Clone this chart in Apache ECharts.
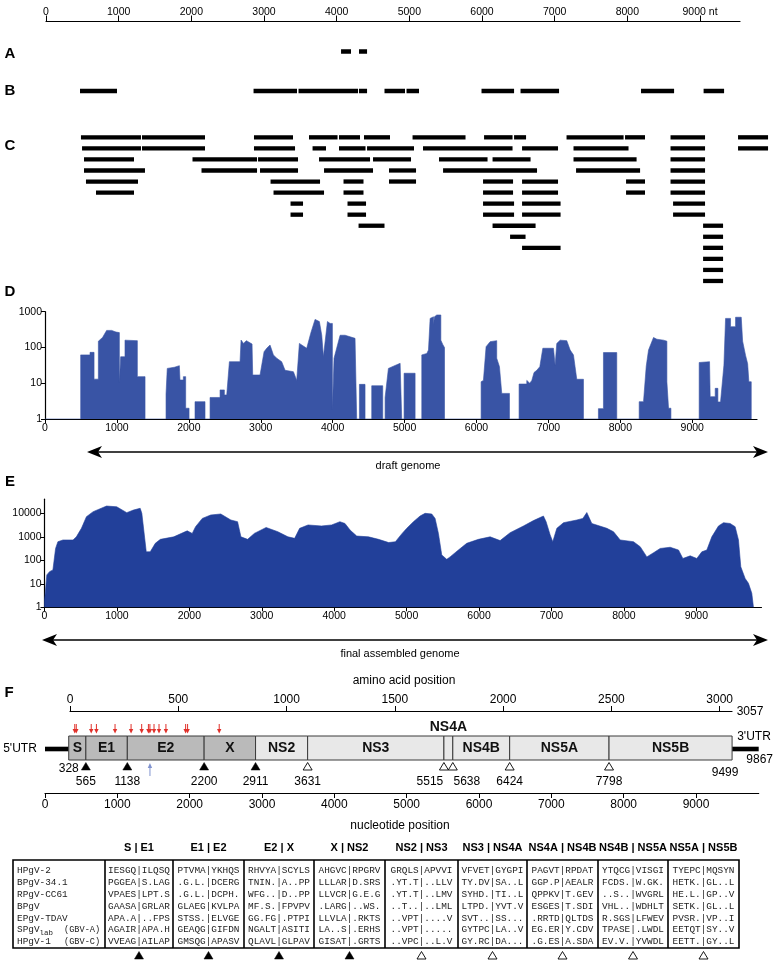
<!DOCTYPE html>
<html><head><meta charset="utf-8">
<script src="https://cdn.jsdelivr.net/npm/echarts@6/dist/echarts.min.js"></script>
<style>html,body{margin:0;padding:0;background:#fff}#c{width:774px;height:960px}</style>
</head><body><div id="c"></div>
<script>
// ---------------- DATA ----------------
const ntTicks = [0,1000,2000,3000,4000,5000,6000,7000,8000,9000];
const aaTicks = [0,500,1000,1500,2000,2500,3000];
const aaLength = 3057;
const genomeLength = 9867;

// Panel A / B / C : contig spans [start nt, end nt] (C has row index)
const contigsA = [[4060,4197],[4307,4418]];
const contigsB = [[468,977],[2856,3454],[3475,4294],[4307,4418],[4658,4940],[4961,5133],[5993,6441],[6530,7060],[8188,8643],[9049,9331]];
const contigsC = [
  [[481,1307],[1321,2188],[2862,3399],[3619,4012],[4032,4321],[4376,4734],[5044,5773],[6028,6420],[6441,6606],[7163,7948],[7968,8243],[8594,9069],[9523,9936]],
  [[496,1307],[1321,2188],[2862,3427],[3668,3853],[4032,4397],[4418,5064],[5188,6420],[6551,7046],[7259,8016],[8594,9069],[9523,9936]],
  [[523,1211],[2016,2904],[2918,3468],[3757,4459],[4500,5023],[5408,6076],[6145,6668],[7259,8127],[8594,9069]],
  [[523,1362],[2140,2904],[2945,3468],[3826,4500],[4720,5092],[5464,6757],[7294,8175],[8594,9069]],
  [[550,1266],[3090,3771],[4094,4369],[4720,5092],[6014,6427],[6551,7046],[7982,8243],[8594,9069]],
  [[688,1211],[3131,3826],[4094,4369],[6014,6427],[6551,7046],[7982,8243],[8594,9069]],
  [[3365,3537],[4149,4404],[6014,6441],[6551,7081],[8629,9069]],
  [[3365,3537],[4149,4404],[6014,6441],[6551,7081],[8629,9069]],
  [[4301,4658],[6145,6737],[9042,9317]],
  [[6386,6599],[9042,9317]],
  [[6551,7081],[9042,9317]],
  [[9042,9317]],
  [[9042,9317]],
  [[9042,9317]]
];

// Panel D : draft genome coverage [nt, depth]
const draftCoverage = [
 [0,1],[496,1],[496,62],[626,62],[626,73],[682,73],[682,13],[742,13],[742,150],[800,190],[857,300],[927,300],[987,270],[1034,260],[1034,10.4],[1052,10.4],[1052,55],[1112,55],[1112,160],[1284,155],[1284,15.3],[1391,15.3],[1391,1],
 [1683,1],[1683,5],[1700,26],[1800,28],[1868,31],[1877,12.3],[1924,12.3],[1924,15.3],[1956,15.3],[1956,2],[2003,2],[2003,1],
 [2086,1],[2086,3.05],[2225,3.05],[2225,1],
 [2295,1],[2295,4],[2434,4],[2434,6.5],[2494,6.5],[2494,4.7],[2527,4.7],[2564,40],[2712,40],[2726,161],[2760,130],[2800,155],[2879,125],[2888,17],[2990,17],[3046,76],[3083,95],[3129,117],[3176,62],[3222,50],[3291,40],[3338,23],[3454,21],[3500,12],[3537,130],[3639,95],[3695,250],[3755,610],[3815,530],[3848,220],[3871,55],[3927,530],[3964,470],[3996,470],[3996,1.8],[4019,1.8],[4019,50],[4103,220],[4172,220],[4311,180],[4334,180],[4334,1],
 [4372,1],[4372,9.3],[4450,9.3],[4450,1],
 [4543,1],[4543,8.5],[4696,8.5],[4696,1],
 [4729,1],[4729,4],[4775,26],[4845,30],[4938,36],[4960,36],[4960,1],
 [4993,1],[4993,19],[5146,19],[5146,1],
 [5239,1],[5239,62],[5309,68],[5332,85],[5355,650],[5402,720],[5402,425],[5415,425],[5415,720],[5448,810],[5504,810],[5504,160],[5532,120],[5555,100],[5555,1],
 [6064,1],[6064,11],[6096,12],[6133,105],[6189,145],[6281,155],[6281,50],[6319,29],[6351,5.2],[6458,5.2],[6458,1],
 [6592,1],[6592,9.5],[6699,9.5],[6699,12],[6740,10],[6769,12],[6800,20],[6838,23],[6880,29],[6922,95],[7070,95],[7093,32],[7116,130],[7163,160],[7255,155],[7302,85],[7348,62],[7394,12.9],[7487,12.9],[7487,1],
 [7695,1],[7695,1.95],[7765,1.95],[7765,72],[7950,72],[7950,1],
 [8262,1],[8262,3.05],[8322,3.05],[8360,30],[8392,85],[8461,190],[8508,170],[8601,160],[8647,150],[8647,11],[8670,2],[8703,2],[8703,1],
 [9096,1],[9096,38],[9240,40],[9249,4.2],[9319,4.2],[9319,7.2],[9356,7.2],[9356,3],[9393,3],[9440,32],[9463,650],[9532,650],[9532,380],[9602,380],[9602,700],[9681,700],[9700,150],[9741,60],[9770,35],[9787,11],[9820,11],[9820,1]
];

// Panel E : final assembled genome coverage [nt, depth]
const finalCoverage = [
 [0,1],[0,2],[14,5.5],[32,24],[70,33],[116,39],[153,320],[185,620],[255,735],[394,735],[440,1000],[510,2300],[579,7200],[672,11800],[857,20500],[997,19000],[1136,10700],[1228,13800],[1321,16400],[1344,10000],[1405,230],[1460,230],[1530,530],[1600,780],[1785,1000],[1970,1800],[2040,1400],[2086,2700],[2179,6100],[2295,8500],[2434,9400],[2573,5200],[2666,4400],[2712,1000],[2805,780],[2897,1400],[3060,2500],[3222,1650],[3361,1000],[3454,860],[3523,2300],[3639,3200],[3825,2900],[3964,3200],[4079,4400],[4149,3700],[4219,1950],[4311,1080],[4474,1000],[4613,780],[4752,570],[4845,620],[4938,1400],[5002,2300],[5094,4400],[5186,7700],[5255,10000],[5347,9400],[5393,6100],[5439,1400],[5485,170],[5554,110],[5600,140],[5715,275],[5830,530],[5991,780],[6153,1000],[6291,690],[6429,1500],[6613,2900],[6751,4900],[6889,7700],[6926,4400],[6982,1200],[7018,620],[7074,2300],[7166,4000],[7350,5200],[7433,6100],[7488,10800],[7557,3700],[7765,2300],[7857,1650],[7949,735],[8133,620],[8225,380],[8317,140],[8409,210],[8501,320],[8639,360],[8754,275],[8814,120],[8915,155],[9007,120],[9076,230],[9145,275],[9214,1000],[9306,2900],[9375,4000],[9467,3700],[9536,2700],[9582,735],[9614,53],[9674,17],[9720,10.5],[9766,4],[9789,1]
];

// Panel F : genome organisation
const geneNames  = ['S','E1','E2','X','NS2','NS3','NS4A','NS4B','NS5A','NS5B'];
const geneStarts = [328,565,1138,2200,2911,3631,5515,5638,6424,7798];
const geneEnds   = [565,1138,2200,2911,3631,5515,5638,6424,7798,9499];
const geneStructural = [1,1,1,1,0,0,0,0,0,0];
const cleavageSites = [565,1138,2200,2911,3631,5515,5638,6424,7798];
const cleavageSignalase = [1,1,1,1,0,0,0,0,0];
const utrSpans = [[0,328],[9499,9867]];
const glycoSitesAA = [22,29,98,122,208,282,331,362,369,388,411,443,534,543,689];
const blueSiteNt = [1451];

// Table of cleavage junctions
const junctionHeaders = ['S | E1','E1 | E2','E2 | X','X | NS2','NS2 | NS3','NS3 | NS4A','NS4A | NS4B','NS4B | NS5A','NS5A | NS5B'];
const virusNames = ['HPgV-2','BPgV-34.1','RPgV-CC61','BPgV','EPgV-TDAV','SPgV|lab|(GBV-A)','HPgV-1||(GBV-C)'];
const junctionSeqs = [
 ['IESGQ|ILQSQ','PTVMA|YKHQS','RHVYA|SCYLS','AHGVC|RPGRV','GRQLS|APVVI','VFVET|GYGPI','PAGVT|RPDAT','YTQCG|VISGI','TYEPC|MQSYN'],
 ['PGGEA|S.LAG','.G.L.|DCERG','TNIN.|A..PP','LLLAR|D.SRS','.YT.T|..LLV','TY.DV|SA..L','GGP.P|AEALR','FCDS.|W.GK.','HETK.|GL..L'],
 ['VPAES|LPT.S','.G.L.|DCPH.','WFG..|D..PP','LLVCR|G.E.G','.YT.T|..LMV','SYHD.|TI..L','QPPKV|T.GEV','..S..|WVGRL','HE.L.|GP..V'],
 ['GAASA|GRLAR','GLAEG|KVLPA','MF.S.|FPVPV','.LARG|..WS.','..T..|..LML','LTPD.|YVT.V','ESGES|T.SDI','VHL..|WDHLT','SETK.|GL..L'],
 ['APA.A|..FPS','STSS.|ELVGE','GG.FG|.PTPI','LLVLA|.RKTS','..VPT|....V','SVT..|SS...','.RRTD|QLTDS','R.SGS|LFWEV','PVSR.|VP..I'],
 ['AGAIR|APA.H','GEAQG|GIFDN','NGALT|ASITI','LA..S|.ERHS','..VPT|.....','GYTPC|LA..V','EG.ER|Y.CDV','TPASE|.LWDL','EETQT|SY..V'],
 ['VVEAG|AILAP','GMSQG|APASV','QLAVL|GLPAV','GISAT|.GRTS','..VPC|..L.V','GY.RC|DA...','.G.ES|A.SDA','EV.V.|YVWDL','EETT.|GY..L']
];

// ---------------- STYLE ----------------
const SANS = "'Liberation Sans',Arial,sans-serif";
const MONO = "'Liberation Mono','Courier New',monospace";
const colD = '#3954a5', colE = '#22409a';
const fmt = v => String(v);

function hiddenY(idx, min, max, inv){ return {type:'value', gridIndex:idx, min:min, max:max, inverse:!!inv, show:false}; }
function segRender(h){
  return function(params, api){
    const s = api.coord([api.value(0), api.value(2)]);
    const e = api.coord([api.value(1), api.value(2)]);
    return {type:'rect', shape:{x:s[0], y:s[1]-h/2, width:e[0]-s[0], height:h}, style:{fill:'#000'}};
  };
}
const cData = [];
contigsC.forEach((row,r)=>row.forEach(s=>cData.push([s[0],s[1],r])));

function dblArrow(x1,x2,y){
  return [
    {type:'line', shape:{x1:x1+8, y1:y, x2:x2-8, y2:y}, style:{stroke:'#000', lineWidth:1.6}},
    {type:'polygon', shape:{points:[[x1,y],[x1+15,y-6],[x1+11,y],[x1+15,y+6]]}, style:{fill:'#000'}},
    {type:'polygon', shape:{points:[[x2,y],[x2-15,y-6],[x2-11,y],[x2-15,y+6]]}, style:{fill:'#000'}}
  ];
}
function label(t,x,y,opt){
  return {type:'text', style:Object.assign({text:t, x:x, y:y, align:'center', verticalAlign:'middle', font:'12px '+SANS, fill:'#000'}, opt||{})};
}

// table graphics
const colBounds = [13,105,173,244,314,385,458,527,598,668,739];
const tableTop = 860, tableBottom = 948, rowY0 = 870.5, rowStep = 11.9;
const tableG = [];
tableG.push({type:'rect', shape:{x:colBounds[0], y:tableTop, width:colBounds[10]-colBounds[0], height:tableBottom-tableTop}, style:{fill:'none', stroke:'#000', lineWidth:1.6}});
for (let i=1;i<10;i++) tableG.push({type:'line', shape:{x1:colBounds[i], y1:tableTop, x2:colBounds[i], y2:tableBottom}, style:{stroke:'#000', lineWidth:1.6}});
junctionHeaders.forEach((h,j)=>{
  const cx=(colBounds[j+1]+colBounds[j+2])/2;
  tableG.push(label(h, cx, 848, {font:'bold 11px '+SANS}));
  const ty=955.5, filled=cleavageSignalase[j];
  tableG.push({type:'polygon', shape:{points:[[cx-4.5,ty+3.5],[cx+4.5,ty+3.5],[cx,ty-4]]}, style:{fill: filled?'#000':'#fff', stroke:'#000', lineWidth: filled?0.5:0.9}});
});
virusNames.forEach((n,i)=>{
  const y=rowY0+i*rowStep;
  const parts=n.split('|');
  tableG.push({type:'text', style:{text:parts[0], x:17, y:y, align:'left', verticalAlign:'middle', font:'9.4px '+MONO, fill:'#222'}});
  if (parts.length>1){
    const w0 = parts[0].length*5.64;
    if (parts[1]) tableG.push({type:'text', style:{text:parts[1], x:17+w0, y:y+3, align:'left', verticalAlign:'middle', font:'7.5px '+MONO, fill:'#222'}});
    tableG.push({type:'text', style:{text:parts[2], x:64, y:y, align:'left', verticalAlign:'middle', font:'8.6px '+MONO, fill:'#222'}});
  }
  junctionSeqs[i].forEach((s,j)=>{
    const cx=(colBounds[j+1]+colBounds[j+2])/2;
    tableG.push({type:'text', style:{text:s, x:cx, y:y, align:'center', verticalAlign:'middle', font:'9.4px '+MONO, fill:'#222'}});
  });
});

const graphics = [].concat(
  [
    label('A',10,54,{font:'bold 15px '+SANS}),
    label('B',10,91,{font:'bold 15px '+SANS}),
    label('C',10,146,{font:'bold 15px '+SANS}),
    label('D',10,292,{font:'bold 15px '+SANS}),
    label('E',10,482,{font:'bold 15px '+SANS}),
    label('F',9,693,{font:'bold 15px '+SANS}),
    label('draft genome',408,466,{font:'11px '+SANS}),
    label('final assembled genome',400,654,{font:'11px '+SANS}),
    label('amino acid position',404,681,{font:'12px '+SANS}),
    label('nucleotide position',400,826,{font:'12px '+SANS}),
    label("5'UTR",20,749,{font:'12px '+SANS}),
    label("3'UTR",754,737,{font:'12px '+SANS}),
    label('3057',750,712,{font:'12px '+SANS})
  ],
  dblArrow(87,768,452),
  dblArrow(42,768,640),
  tableG
);

// ---------------- OPTION ----------------
const axisLine = {show:true, onZero:false, lineStyle:{color:'#000', width:1.2}};
const tick = (len, vals) => ({show:true, length:len, lineStyle:{color:'#000'}, customValues:vals});
const lab = (vals, size, margin, extra) => Object.assign({customValues:vals, color:'#000', fontSize:size, fontFamily:SANS, margin:margin, formatter:fmt}, extra||{});
const option = {
  animation:false,
  backgroundColor:'#fff',
  grid:[
    {left:46, right:34, top:21.5, height:60},      // 0 top axis + A
    {left:46, right:34, top:85.5, height:11},      // 1 B
    {left:46, right:34, top:131.8, height:154.7},  // 2 C
    {left:45, right:17, top:311.7, height:107.3},  // 3 D
    {left:44.5, right:12.5, top:499.2, height:108.1}, // 4 E
    {left:70, right:42, top:711, height:60},       // 5 aa axis
    {left:45, right:15.3, top:700, height:93}      // 6 nt axis
  ],
  xAxis:[
    {type:'value', gridIndex:0, position:'top', min:0, max:9550, axisLine:axisLine, axisTick:tick(6, ntTicks),
      axisLabel:lab(ntTicks, 10.5, 4, {formatter:v=> v===9000 ? '9000 nt' : String(v)}), splitLine:{show:false}},
    {type:'value', gridIndex:1, min:0, max:9550, show:false},
    {type:'value', gridIndex:2, min:0, max:9550, show:false},
    {type:'value', gridIndex:3, min:0, max:9900, axisLine:axisLine, axisTick:tick(4, ntTicks),
      axisLabel:lab(ntTicks, 10.5, 4), splitLine:{show:false}},
    {type:'value', gridIndex:4, min:0, max:9900, axisLine:axisLine, axisTick:tick(4, ntTicks),
      axisLabel:lab(ntTicks, 10.5, 3), splitLine:{show:false}},
    {type:'value', gridIndex:5, position:'top', min:0, max:aaLength, axisLine:axisLine, axisTick:tick(5, aaTicks),
      axisLabel:lab(aaTicks, 12, 5), splitLine:{show:false}},
    {type:'value', gridIndex:6, position:'bottom', min:0, max:genomeLength, axisLine:axisLine, axisTick:tick(5, ntTicks),
      axisLabel:lab(ntTicks, 12, 6), splitLine:{show:false}}
  ],
  yAxis:[
    hiddenY(0,-1,1), hiddenY(1,-1,1), hiddenY(2,-0.5,13.5,true),
    {type:'log', gridIndex:3, min:1, max:1000, logBase:10, axisLine:axisLine, axisTick:tick(4,[1,10,100,1000]),
      axisLabel:lab([1,10,100,1000], 10.5, 3), splitLine:{show:false}},
    {type:'log', gridIndex:4, min:1, max:40000, logBase:10, axisLine:axisLine, axisTick:tick(4,[1,10,100,1000,10000]),
      axisLabel:lab([1,10,100,1000,10000], 10.5, 3), splitLine:{show:false}},
    hiddenY(5,0,1), hiddenY(6,0,1)
  ],
  series:[
    {type:'custom', xAxisIndex:0, yAxisIndex:0, clip:false, renderItem:segRender(4.5), encode:{x:[0,1], y:2},
      data: contigsA.map(s=>[s[0],s[1],0])},
    {type:'custom', xAxisIndex:1, yAxisIndex:1, clip:false, renderItem:segRender(4.5), encode:{x:[0,1], y:2},
      data: contigsB.map(s=>[s[0],s[1],0])},
    {type:'custom', xAxisIndex:2, yAxisIndex:2, clip:false, renderItem:segRender(4.3), encode:{x:[0,1], y:2},
      data: cData},
    {type:'line', xAxisIndex:3, yAxisIndex:3, data:draftCoverage, showSymbol:false, symbol:'none',
      lineStyle:{width:0.6, color:colD}, areaStyle:{color:colD, opacity:1, origin:'start'}},
    {type:'line', xAxisIndex:4, yAxisIndex:4, data:finalCoverage, showSymbol:false, symbol:'none',
      lineStyle:{width:0.6, color:colE}, areaStyle:{color:colE, opacity:1, origin:'start'}},
    // UTR lines
    {type:'custom', xAxisIndex:6, yAxisIndex:6, clip:false, data:utrSpans,
      renderItem:function(params, api){
        const s=api.coord([api.value(0),0]), e=api.coord([api.value(1),0]);
        const y=params.coordSys.y+49;
        return {type:'rect', shape:{x:s[0], y:y-2.3, width:e[0]-s[0], height:4.6}, style:{fill:'#000'}};
      }},
    // gene boxes
    {type:'custom', xAxisIndex:6, yAxisIndex:6, clip:false, encode:{x:[0,1]},
      data: geneNames.map((n,i)=>[geneStarts[i], geneEnds[i], i]),
      renderItem:function(params, api){
        const i=api.value(2);
        const s=api.coord([api.value(0),0]), e=api.coord([api.value(1),0]);
        const top=params.coordSys.y+36, h=24;
        const name=geneNames[i];
        const ch=[{type:'rect', shape:{x:s[0], y:top, width:e[0]-s[0], height:h},
          style:{fill: geneStructural[i] ? '#bababa' : '#e8e8e8', stroke:'#3a3a3a', lineWidth:1}}];
        const cx=(s[0]+e[0])/2;
        ch.push({type:'text', style:{text:name, x:cx, y: name==='NS4A' ? top-9 : top+h/2+0.5, align:'center', verticalAlign:'middle',
          font:'bold 14px '+SANS, fill:'#111'}});
        return {type:'group', children:ch};
      }},
    // cleavage triangles + positions
    {type:'custom', xAxisIndex:6, yAxisIndex:6, clip:false,
      data: cleavageSites.map((p,i)=>[p, cleavageSignalase[i]]),
      renderItem:function(params, api){
        const p=api.value(0), filled=api.value(1);
        const c=api.coord([p,0]);
        const y0=params.coordSys.y;
        const dx = p===5515 ? -14 : (p===5638 ? 14 : 0);
        return {type:'group', children:[
          {type:'polygon', shape:{points:[[c[0]-4.5,y0+70],[c[0]+4.5,y0+70],[c[0],y0+62.5]]},
            style:{fill: filled?'#000':'#fff', stroke:'#000', lineWidth: filled?0.5:0.9}},
          {type:'text', style:{text:String(p), x:c[0]+dx, y:y0+82, align:'center', verticalAlign:'middle', font:'12px '+SANS, fill:'#000'}}
        ]};
      }},
    // end labels 328 / 9499 / 9867
    {type:'custom', xAxisIndex:6, yAxisIndex:6, clip:false,
      data: [[geneStarts[0]],[geneEnds[geneEnds.length-1]],[genomeLength]],
      renderItem:function(params, api){
        const p=api.value(0); const c=api.coord([p,0]); const y0=params.coordSys.y;
        let x=c[0], y=y0+69;
        if (p===9499){ x=c[0]-7; y=y0+73; }
        if (p===genomeLength){ x=c[0]+1; y=y0+60; }
        return {type:'text', style:{text:String(p), x:x, y:y, align:'center', verticalAlign:'middle', font:'12px '+SANS, fill:'#000'}};
      }},
    // blue arrow
    {type:'custom', xAxisIndex:6, yAxisIndex:6, clip:false, data: blueSiteNt.map(p=>[p]),
      renderItem:function(params, api){
        const c=api.coord([api.value(0),0]); const y0=params.coordSys.y;
        return {type:'group', children:[
          {type:'line', shape:{x1:c[0], y1:y0+76, x2:c[0], y2:y0+66}, style:{stroke:'#8193cf', lineWidth:1}},
          {type:'polygon', shape:{points:[[c[0]-2.2,y0+68],[c[0]+2.2,y0+68],[c[0],y0+63]]}, style:{fill:'#8193cf'}}
        ]};
      }},
    // red glycosylation arrows (aa positions)
    {type:'custom', xAxisIndex:5, yAxisIndex:5, clip:false, data: glycoSitesAA.map(p=>[p]),
      renderItem:function(params, api){
        const c=api.coord([api.value(0),0]); const y0=params.coordSys.y;
        return {type:'group', children:[
          {type:'line', shape:{x1:c[0], y1:y0+13, x2:c[0], y2:y0+19}, style:{stroke:'#e0302a', lineWidth:1}},
          {type:'polygon', shape:{points:[[c[0]-2.2,y0+18],[c[0]+2.2,y0+18],[c[0],y0+22.5]]}, style:{fill:'#e0302a'}}
        ]};
      }}
  ],
  graphic: graphics
};
const chart = echarts.init(document.getElementById('c'), null, {renderer:'canvas', width:774, height:960});
chart.setOption(option);
</script>
</body></html>
